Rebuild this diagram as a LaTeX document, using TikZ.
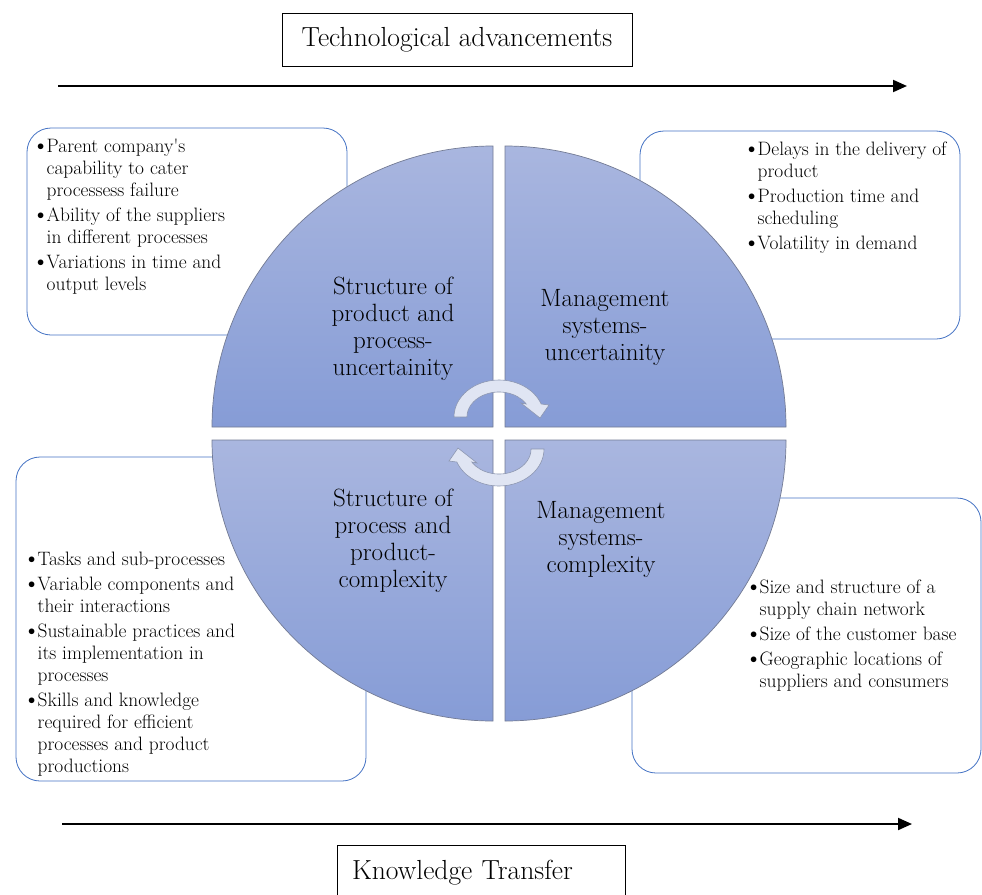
\documentclass[tikz,border=0pt]{standalone}
\usepackage{fontspec}
\usepackage{graphicx}
\usetikzlibrary{arrows.meta}
\definecolor{qtop}{RGB}{169,182,223}
\definecolor{qbot}{RGB}{134,156,214}
\definecolor{qedge}{RGB}{115,123,148}
\definecolor{boxblue}{RGB}{68,114,196}
\definecolor{arrfill}{RGB}{224,229,243}
\definecolor{arredge}{RGB}{140,150,176}
\newcommand{\bl}{\makebox[10.5pt][l]{\hspace{-4.5pt}\raisebox{-1.2pt}{\scalebox{1.3}{\textbullet}}}}
\begin{document}
\begin{tikzpicture}[x=1pt,y=1pt,
  infobox/.style={draw=boxblue, line width=0.8pt, rounded corners=24pt, inner sep=0pt},
  quad/.style={draw=qedge, line width=0.7pt, top color=qtop, bottom color=qbot},
  qlabel/.style={align=center, font=\fontsize{25}{27}\selectfont, inner sep=0pt},
  blist/.style={anchor=north west, inner sep=0pt, font=\fontsize{19.4}{22}\selectfont},
  titlebox/.style={draw=black, line width=1pt, font=\fontsize{27.6}{30}\selectfont},
  flowarrow/.style={line width=2pt, -{Triangle[length=14pt,width=12pt]}},
  cycarrow/.style={fill=arrfill, draw=arredge, line width=0.6pt}
]
\useasboundingbox (0,0) rectangle (982,-894);
\fill[white] (0,0) rectangle (982,-894);

% information boxes
\node[infobox, minimum width=320pt, minimum height=207pt] (tlbox) at (187,-231.5) {};
\node[infobox, minimum width=320pt, minimum height=208pt] (trbox) at (800,-235) {};
\node[infobox, minimum width=350pt, minimum height=324pt] (blbox) at (191,-619) {};
\node[infobox, minimum width=349pt, minimum height=275pt] (brbox) at (806.5,-635.5) {};

% quadrants
\path[quad] (493,-427) -- (212,-427) arc[start angle=180, end angle=90, radius=281] -- cycle;
\path[quad] (505,-427) -- (505,-146) arc[start angle=90, end angle=0, radius=281] -- cycle;
\path[quad] (493,-440) -- (212,-440) arc[start angle=180, end angle=270, radius=281] -- cycle;
\path[quad] (505,-440) -- (786,-440) arc[start angle=0, end angle=-90, radius=281] -- cycle;

% quadrant labels
\node[qlabel] (tlq) at (393,-328.5) {Structure of\\product and\\process-\\uncertainity};
\node[qlabel] (trq) at (605,-327.5) {Management\\systems-\\uncertainity};
\node[qlabel] (blq) at (393,-540.5) {Structure of\\process and\\product-\\complexity};
\node[qlabel] (brq) at (601,-539.5) {Management\\systems-\\complexity};

% lists
\node[blist] (tltext) at (36,-136.8) {\begin{tabular}{@{}l@{}l@{}}
\bl & Parent company\textquotesingle s\\
    & capability to cater\\
    & processess failure\\[3pt]
\bl & Ability of the suppliers\\
    & in different processes\\[3pt]
\bl & Variations in time and\\
    & output levels
\end{tabular}};
\node[blist] (trtext) at (747,-139.8) {\begin{tabular}{@{}l@{}l@{}}
\bl & Delays in the delivery of\\
    & product\\[3pt]
\bl & Production time and\\
    & scheduling\\[3pt]
\bl & Volatility in demand
\end{tabular}};
\node[blist] (bltext) at (27,-549.8) {\begin{tabular}{@{}l@{}l@{}}
\bl & Tasks and sub-processes\\[3pt]
\bl & Variable components and\\
    & their interactions\\[3pt]
\bl & Sustainable practices and\\
    & its implementation in\\
    & processes\\[3pt]
\bl & Skills and knowledge\\
    & required for efficient\\
    & processes and product\\
    & productions
\end{tabular}};
\node[blist] (brtext) at (749,-577.8) {\begin{tabular}{@{}l@{}l@{}}
\bl & Size and structure of a\\
    & supply chain network\\[3pt]
\bl & Size of the customer base\\[3pt]
\bl & Geographic locations of\\
    & suppliers and consumers
\end{tabular}};

% cyclic arrows
\begin{scope}[shift={(499,-417)}]
\path[cycarrow] (-45,0) arc[start angle=180, end angle=20.6, x radius=45, y radius=37]
  -- (50,12) -- (41,-1) -- (22,14) -- (27.3,13)
  arc[start angle=31.3, end angle=180, x radius=32, y radius=25] -- cycle;
\end{scope}
\begin{scope}[shift={(499,-449)}, rotate=180]
\path[cycarrow] (-45,0) arc[start angle=180, end angle=20.6, x radius=45, y radius=37]
  -- (50,12) -- (41,-1) -- (22,14) -- (27.3,13)
  arc[start angle=31.3, end angle=180, x radius=32, y radius=25] -- cycle;
\end{scope}

% titles
\node[titlebox, minimum width=350pt, minimum height=53pt] (tech) at (457,-39.5) {Technological advancements};
\node[titlebox, text width=258pt, inner xsep=15pt, minimum height=56pt, align=left] (know) at (481,-873) {Knowledge Transfer};

% flow arrows
\coordinate (ta0) at (58,-86);
\coordinate (ta1) at (907,-86);
\draw[flowarrow] (ta0) -- (ta1);
\coordinate (ba0) at (62,-824);
\coordinate (ba1) at (912,-824);
\draw[flowarrow] (ba0) -- (ba1);
\end{tikzpicture}
\end{document}
